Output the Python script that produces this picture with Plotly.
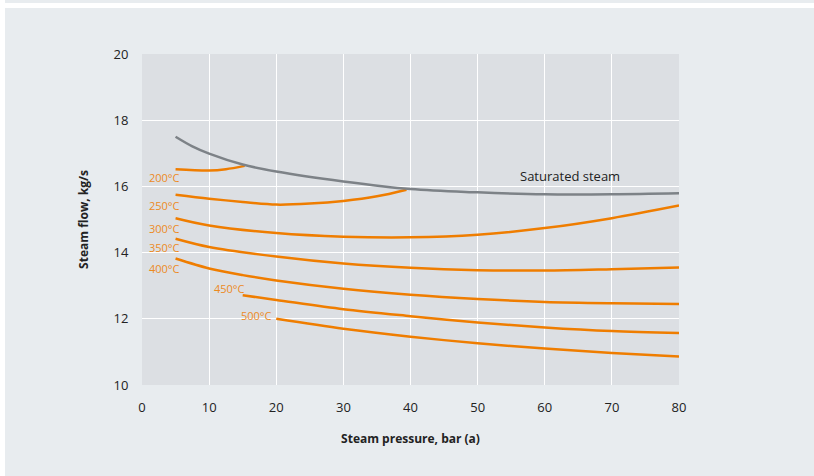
import plotly.graph_objects as go

# Data (steam pressure in bar(a), steam flow in kg/s)
sat_p = [5, 7.5, 10, 15, 20, 30, 40, 50, 60, 70, 80]
sat_v = [17.50, 17.21, 16.99, 16.66, 16.45, 16.15, 15.92, 15.82, 15.76, 15.76, 15.79]

t200_p = [5, 10, 12.5, 15.3]
t200_v = [16.52, 16.48, 16.52, 16.62]

t250_p = [5, 10, 15, 20, 25, 30, 35, 39.4]
t250_v = [15.75, 15.63, 15.53, 15.45, 15.48, 15.56, 15.70, 15.90]

t300_p = [5, 10, 20, 30, 40, 50, 60, 70, 80]
t300_v = [15.04, 14.82, 14.59, 14.48, 14.46, 14.54, 14.74, 15.04, 15.42]

t350_p = [5, 10, 20, 30, 40, 50, 60, 70, 80]
t350_v = [14.42, 14.17, 13.88, 13.67, 13.54, 13.47, 13.46, 13.50, 13.55]

t400_p = [5, 10, 15, 20, 30, 40, 50, 60, 70, 80]
t400_v = [13.82, 13.52, 13.32, 13.16, 12.91, 12.73, 12.60, 12.51, 12.47, 12.45]

t450_p = [15, 20, 30, 40, 50, 60, 70, 80]
t450_v = [12.71, 12.57, 12.29, 12.08, 11.89, 11.74, 11.63, 11.57]

t500_p = [20, 30, 40, 50, 60, 70, 80]
t500_v = [12.00, 11.70, 11.46, 11.26, 11.10, 10.97, 10.86]

temp_labels = ["200°C", "250°C", "300°C", "350°C", "400°C", "450°C", "500°C"]
label_x = [6.0, 6.0, 6.0, 6.0, 6.0, 15.6, 19.7]
label_y = [16.26, 15.42, 14.73, 14.14, 13.51, 12.93, 12.10]

x_ticks = [0, 10, 20, 30, 40, 50, 60, 70, 80]
y_ticks = [10, 12, 14, 16, 18, 20]

ORANGE = "#ef7d00"
LABEL_ORANGE = "#ec8a1e"
GREY = "#7d8287"
PANEL = "#e8ecef"
PLOT_BG = "#dcdfe3"
FONT = "Open Sans"

fig = go.Figure()

series = [(t200_p, t200_v), (t250_p, t250_v), (t300_p, t300_v), (t350_p, t350_v),
          (t400_p, t400_v), (t450_p, t450_v), (t500_p, t500_v)]
for (px, pv), name in zip(series, temp_labels):
    fig.add_trace(go.Scatter(x=px, y=pv, mode="lines", name=name,
                             line=dict(color=ORANGE, width=2.5, shape="spline", smoothing=0.9),
                             hoverinfo="skip"))

fig.add_trace(go.Scatter(x=sat_p, y=sat_v, mode="lines", name="Saturated steam",
                         line=dict(color=GREY, width=2.5, shape="spline", smoothing=1.0),
                         hoverinfo="skip"))

for t, lx, ly in zip(temp_labels, label_x, label_y):
    fig.add_annotation(x=lx, y=ly, text=t, showarrow=False, xanchor="right", yanchor="middle",
                       font=dict(family=FONT, size=11, color=LABEL_ORANGE))

fig.add_annotation(x=63.8, y=16.30, text="Saturated steam", showarrow=False,
                   xanchor="center", yanchor="middle",
                   font=dict(family=FONT, size=13, color="#222222"))

W, H = 814, 476
L, R, T, B = 142, 135, 54, 90.5
pw, ph = W - L - R, H - T - B

def px_x(X):
    return (X - L) / pw

def px_y(Y):
    return (H - B - Y) / ph

# white gap strips around the panel
fig.add_shape(type="rect", xref="paper", yref="paper",
              x0=px_x(-2), x1=px_x(W + 2), y0=px_y(8), y1=px_y(3),
              fillcolor="white", line=dict(width=0), layer="above")
fig.add_shape(type="rect", xref="paper", yref="paper",
              x0=px_x(-2), x1=px_x(5), y0=px_y(H + 2), y1=px_y(-2),
              fillcolor="white", line=dict(width=0), layer="above")

fig.update_layout(
    width=W, height=H,
    margin=dict(l=L, r=R, t=T, b=B, pad=0),
    paper_bgcolor=PANEL, plot_bgcolor=PLOT_BG,
    showlegend=False,
    font=dict(family=FONT, size=12, color="#222222"),
    xaxis=dict(range=[0, 80], tickvals=x_ticks, ticktext=[str(v) for v in x_ticks],
               showgrid=True, gridcolor="white", gridwidth=1.2, zeroline=False,
               ticks="outside", ticklen=10, tickcolor=PANEL,
               tickfont=dict(family=FONT, size=13, color="#222222"),
               title=dict(text="<b>Steam pressure, bar (a)</b>", standoff=20,
                          font=dict(family=FONT, size=12, color="#222222"))),
    yaxis=dict(range=[10, 20], tickvals=y_ticks, ticktext=[str(v) for v in y_ticks],
               showgrid=True, gridcolor="white", gridwidth=1.2, zeroline=False,
               ticks="outside", ticklen=10, tickcolor=PANEL,
               tickfont=dict(family=FONT, size=13, color="#222222"),
               title=dict(text="<b>Steam flow, kg/s</b>", standoff=22,
                          font=dict(family=FONT, size=12, color="#222222"))),
)

fig.write_html("out.html", config={"displayModeBar": False},
               post_script="document.body.style.margin='0';document.body.style.padding='0';")
